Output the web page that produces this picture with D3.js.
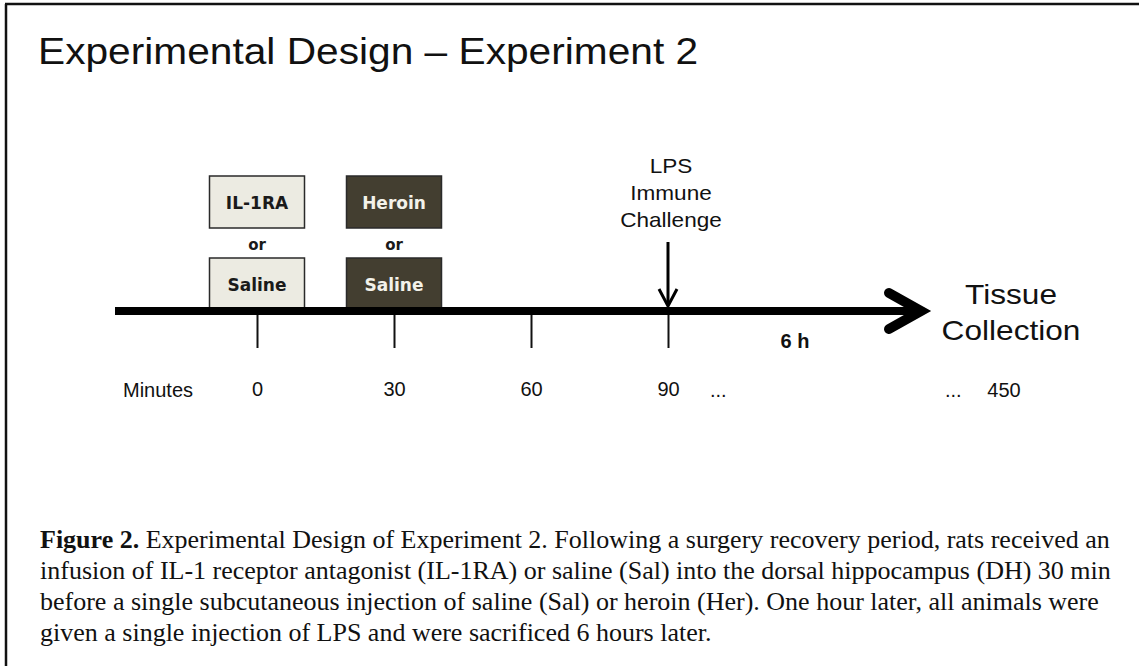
<!DOCTYPE html>
<html>
<head>
<meta charset="utf-8">
<script src="https://cdn.jsdelivr.net/npm/d3@7"></script>
<style>
  body { margin: 0; background: #fff; }
  svg { display: block; }
</style>
</head>
<body>
<div id="chart"></div>
<script>
var width = 1139,
    height = 666;

// timeline data (minutes)
var tickMinutes = [0, 30, 60, 90];
var tickLabels = ["0", "30", "60", "90"];
var boxMinutes = [0, 30];
var boxTopLabels = ["IL-1RA", "Heroin"];
var boxBottomLabels = ["Saline", "Saline"];
var lpsMinute = 90;
var lpsLines = ["LPS", "Immune", "Challenge"];
var endLabel = "450";
var endLines = ["Tissue", "Collection"];
var spanLabel = "6 h";

var captionLines = [
  "Experimental Design of Experiment 2. Following a surgery recovery period, rats received an",
  "infusion of IL-1 receptor antagonist (IL-1RA) or saline (Sal) into the dorsal hippocampus (DH) 30 min",
  "before a single subcutaneous injection of saline (Sal) or heroin (Her). One hour later, all animals were",
  "given a single injection of LPS and were sacrificed 6 hours later."
];

var x = d3.scaleLinear().domain([0, 90]).range([257, 668]);

var arial = "Liberation Sans, Arial, sans-serif";
var stretch = 1.13;   // the sans labels in the figure are a bit wide

var svg = d3.select("#chart").append("svg")
    .attr("width", width)
    .attr("height", height);

// frame (top + left edges)
svg.append("line").attr("x1", 5).attr("x2", width).attr("y1", 4).attr("y2", 4)
    .attr("stroke", "#111").attr("stroke-width", 2.5);
svg.append("line").attr("x1", 6).attr("x2", 6).attr("y1", 4).attr("y2", height)
    .attr("stroke", "#111").attr("stroke-width", 2.5);

svg.append("text")
    .attr("transform", "translate(38,64) scale(" + stretch + ",1)")
    .attr("font-family", arial)
    .attr("font-size", 36)
    .attr("fill", "#111")
    .text("Experimental Design \u2013 Experiment 2");

var lineY = 311;

// boxes
var boxW = 95, boxH = 52;
var sans = "DejaVu Sans, Verdana, sans-serif";
var bx = svg.selectAll("g.treat").data(boxMinutes).enter().append("g")
    .attr("class", "treat")
    .attr("transform", function(d) { return "translate(" + x(d) + ",0)"; });

bx.append("rect")
    .attr("x", -boxW / 2).attr("y", 176).attr("width", boxW).attr("height", boxH)
    .attr("fill", function(d, i) { return i ? "#433e30" : "#ecebe2"; })
    .attr("stroke", "#2a2a2a").attr("stroke-width", 1.5);
bx.append("rect")
    .attr("x", -boxW / 2).attr("y", 258).attr("width", boxW).attr("height", boxH)
    .attr("fill", function(d, i) { return i ? "#433e30" : "#ecebe2"; })
    .attr("stroke", "#2a2a2a").attr("stroke-width", 1.5);
bx.append("text")
    .attr("y", 209).attr("text-anchor", "middle")
    .attr("font-family", sans).attr("font-weight", "bold").attr("font-size", 17)
    .attr("fill", function(d, i) { return i ? "#f3f2ea" : "#1a1a1a"; })
    .text(function(d, i) { return boxTopLabels[i]; });
bx.append("text")
    .attr("y", 250).attr("text-anchor", "middle")
    .attr("font-family", sans).attr("font-weight", "bold").attr("font-size", 15)
    .attr("fill", "#1a1a1a")
    .text("or");
bx.append("text")
    .attr("y", 291).attr("text-anchor", "middle")
    .attr("font-family", sans).attr("font-weight", "bold").attr("font-size", 17)
    .attr("fill", function(d, i) { return i ? "#f3f2ea" : "#1a1a1a"; })
    .text(function(d, i) { return boxBottomLabels[i]; });

// ticks via axis
var axis = d3.axisBottom(x).tickValues(tickMinutes)
    .tickFormat(function(d, i) { return tickLabels[i]; })
    .tickSize(34).tickPadding(34);
var ax = svg.append("g").attr("transform", "translate(0," + (lineY + 3) + ")").call(axis);
ax.select(".domain").remove();
ax.selectAll(".tick line").attr("stroke", "#111").attr("stroke-width", 2);
ax.selectAll(".tick text")
    .attr("font-family", arial)
    .attr("font-size", 20).attr("fill", "#111");

// main timeline + arrowhead
svg.append("line")
    .attr("x1", 115).attr("x2", 915).attr("y1", lineY).attr("y2", lineY)
    .attr("stroke", "#000").attr("stroke-width", 8);
svg.append("path")
    .attr("d", "M889,293L921," + lineY + "L889,329")
    .attr("fill", "none").attr("stroke", "#000").attr("stroke-width", 10)
    .attr("stroke-linecap", "round").attr("stroke-linejoin", "miter");

// LPS arrow
var lx = x(lpsMinute);
svg.append("line").attr("x1", lx).attr("x2", lx).attr("y1", 242).attr("y2", 305)
    .attr("stroke", "#000").attr("stroke-width", 3);
svg.append("path")
    .attr("d", "M" + (lx - 9) + ",289L" + lx + ",306L" + (lx + 9) + ",289")
    .attr("fill", "none").attr("stroke", "#000").attr("stroke-width", 3);
svg.append("g").selectAll("text").data(lpsLines).enter().append("text")
    .attr("transform", function(d, i) {
      return "translate(" + (lx + 3) + "," + (173 + i * 27) + ") scale(" + stretch + ",1)";
    })
    .attr("text-anchor", "middle")
    .attr("font-family", arial).attr("font-size", 20)
    .attr("fill", "#111")
    .text(function(d) { return d; });

svg.append("text")
    .attr("x", 795).attr("y", 348).attr("text-anchor", "middle")
    .attr("font-family", arial).attr("font-weight", "bold")
    .attr("font-size", 20).attr("fill", "#111")
    .text(spanLabel);

svg.append("g").selectAll("text").data(endLines).enter().append("text")
    .attr("transform", function(d, i) {
      return "translate(1011," + (304 + i * 36) + ") scale(" + stretch + ",1)";
    })
    .attr("text-anchor", "middle")
    .attr("font-family", arial).attr("font-size", 28)
    .attr("fill", "#111")
    .text(function(d) { return d; });

// row labels
var rowY = lineY + 3 + 34 + 34 + 15;
svg.append("text").attr("x", 123).attr("y", rowY)
    .attr("font-family", arial).attr("font-size", 20).attr("fill", "#111").text("Minutes");
svg.append("text").attr("x", 710).attr("y", rowY)
    .attr("font-family", arial).attr("font-size", 20).attr("fill", "#111").text("...");
svg.append("text").attr("x", 945).attr("y", rowY)
    .attr("font-family", arial).attr("font-size", 20).attr("fill", "#111").text("...");
svg.append("text").attr("x", 1004).attr("y", rowY).attr("text-anchor", "middle")
    .attr("font-family", arial).attr("font-size", 20).attr("fill", "#111").text(endLabel);

// caption
var cap = svg.append("g")
    .attr("font-family", "Liberation Serif, Times New Roman, serif")
    .attr("font-size", 26).attr("fill", "#111");
captionLines.forEach(function(t, i) {
  var tx = cap.append("text").attr("x", 40).attr("y", 548 + i * 31);
  if (i === 0) {
    tx.append("tspan").attr("font-weight", "bold").text("Figure 2. ");
  }
  tx.append("tspan").text(t);
});
</script>
</body>
</html>
